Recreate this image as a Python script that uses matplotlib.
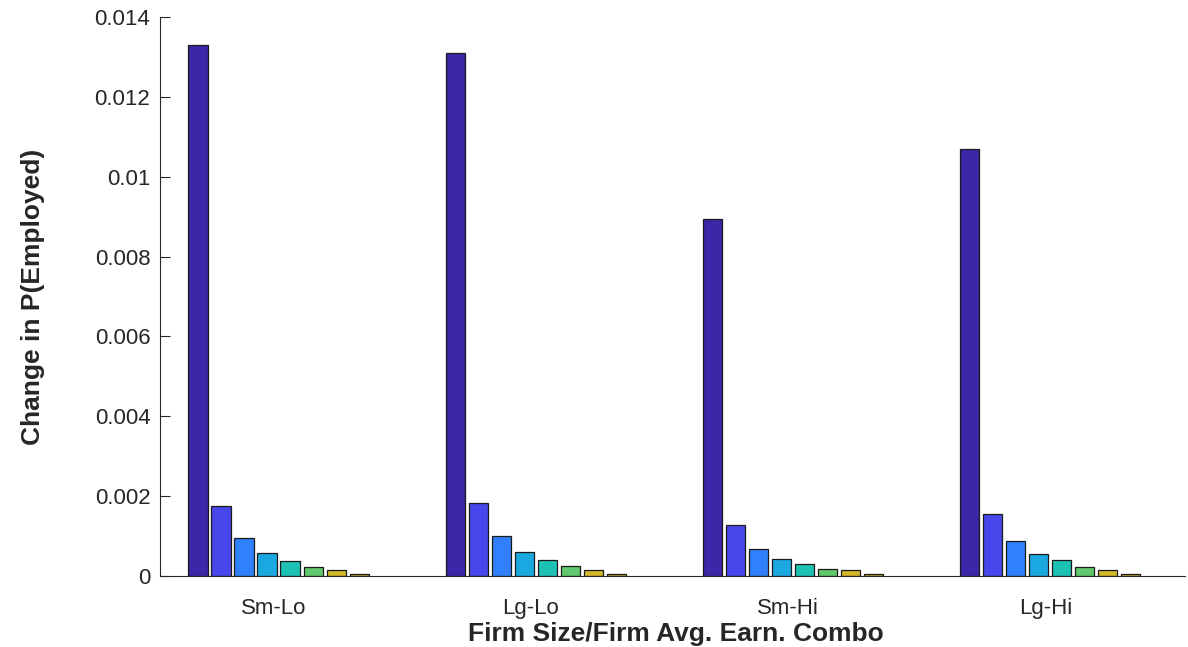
import matplotlib
matplotlib.use('Agg')
import matplotlib.pyplot as plt
import numpy as np

plt.rcParams['font.family'] = ['Liberation Sans', 'DejaVu Sans']

# Gruppen und Werte (8 Balken pro Gruppe)
groups = ['Sm-Lo', 'Lg-Lo', 'Sm-Hi', 'Lg-Hi']
sm_lo = [0.01329, 0.00175, 0.00095, 0.00058, 0.00038, 0.00023, 0.00016, 0.00005]
lg_lo = [0.01309, 0.00183, 0.00100, 0.00060, 0.00040, 0.00025, 0.00016, 0.00005]
sm_hi = [0.00894, 0.00127, 0.00068, 0.00043, 0.00030, 0.00018, 0.00014, 0.00004]
lg_hi = [0.01069, 0.00155, 0.00088, 0.00055, 0.00039, 0.00023, 0.00016, 0.00005]
yticks = [0, 0.002, 0.004, 0.006, 0.008, 0.01, 0.012, 0.014]
ytick_labels = ['0', '0.002', '0.004', '0.006', '0.008', '0.01', '0.012', '0.014']

colors = ['#3E26A8', '#4747EB', '#2F80FA', '#1BA8E0', '#1DC2B4', '#60C96D', '#D2B82A', '#C8AE2E']

data = np.array([sm_lo, lg_lo, sm_hi, lg_hi])
n_groups, n_bars = data.shape
x = np.arange(1, n_groups + 1)
slot = 0.0894
width = 0.074

fig = plt.figure(figsize=(11.88, 6.47), dpi=100)
ax = fig.add_axes([0.1347, 0.1097, 0.8628, 0.864])

for i in range(n_bars):
    offs = (i - (n_bars - 1) / 2) * slot
    ax.bar(x + offs, data[:, i], width=width, color=colors[i],
           edgecolor='#1a1a1a', linewidth=0.9, zorder=2)

ax.set_xlim(0.5395, 4.523)
ax.set_ylim(0, 0.014)
ax.set_yticks(yticks)
ax.set_yticklabels(ytick_labels)
# Beschriftungen leicht links von der Gruppenmitte, wie im Original
ax.set_xticks(x - 0.019)
ax.set_xticklabels(groups)

for s in ['top', 'right']:
    ax.spines[s].set_visible(False)
for s in ['left', 'bottom']:
    ax.spines[s].set_color('#262626')
    ax.spines[s].set_linewidth(0.8)
    ax.spines[s].set_zorder(3)

ax.tick_params(axis='both', direction='in', colors='#262626', labelsize=16,
               length=7, width=0.8)
ax.tick_params(axis='x', length=0, pad=16)
ax.tick_params(axis='y', pad=7)

ax.set_ylabel('Change in P(Employed)', fontsize=19, fontweight='bold',
              color='#262626', labelpad=36)
ax.set_xlabel('Firm Size/Firm Avg. Earn. Combo', fontsize=19, fontweight='bold',
              color='#262626')
ax.xaxis.set_label_coords(0.503, -0.082)

fig.savefig('out.png', dpi=100)
